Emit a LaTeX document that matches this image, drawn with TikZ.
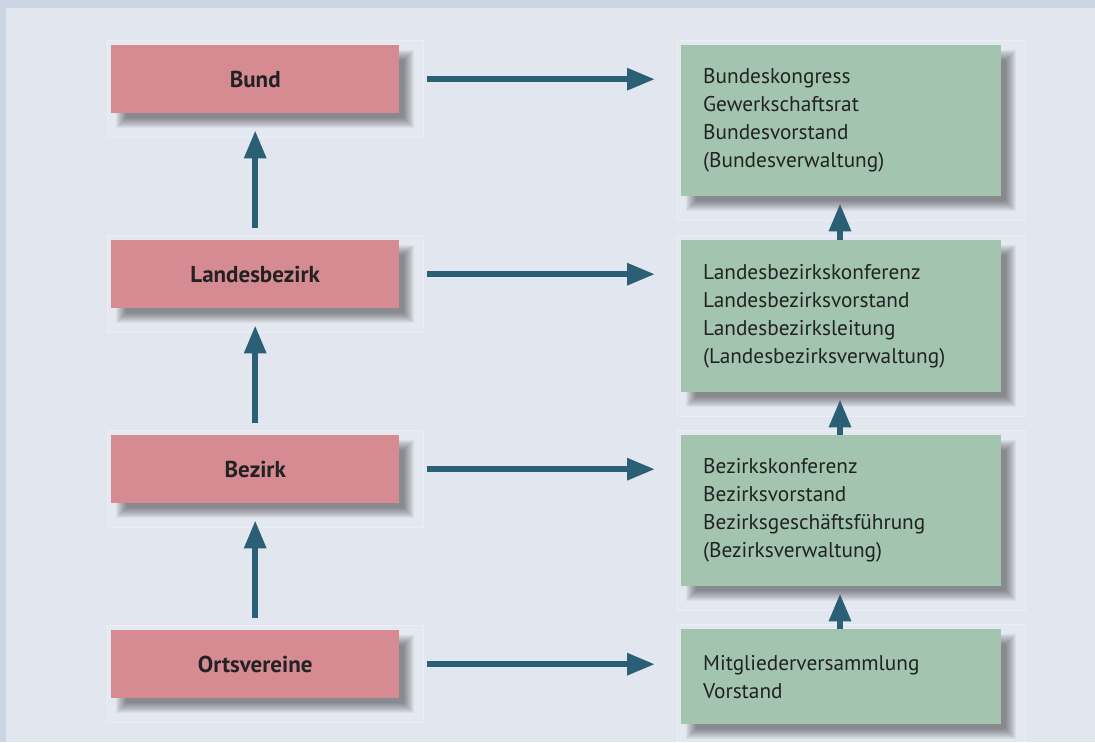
\documentclass[tikz,border=0pt]{standalone}
\usepackage{fontspec}
\setmainfont{PT Sans}
\usetikzlibrary{arrows.meta,calc,backgrounds}

\definecolor{pagebg}{HTML}{E1E6EF}
\definecolor{framebg}{HTML}{CBD5E3}
\definecolor{levelred}{HTML}{D68B93}
\definecolor{organgreen}{HTML}{A3C5B0}
\definecolor{arrowblue}{HTML}{2B5F75}
\definecolor{inktext}{HTML}{222222}

\tikzset{
  level/.style={fill=levelred, minimum width=288pt, minimum height=68pt,
    inner sep=0pt, anchor=north west, text=inktext,
    font=\fontsize{23}{28}\selectfont\bfseries},
  organ/.style={fill=organgreen, text width=276pt, inner xsep=22pt, inner ysep=0pt,
    align=left, anchor=north west, text=inktext,
    font=\fontsize{21.3}{28}\selectfont},
  flow/.style={draw=arrowblue, line width=6pt,
    -{Triangle[length=28pt,width=21pt]}},
  panel/.style={fill=white, fill opacity=0.10, draw=white, draw opacity=0.3, line width=1pt},
}

\begin{document}
\begin{tikzpicture}[x=1pt,y=-1pt]
  \useasboundingbox (0,0) rectangle (1095,742);

  % hierarchy levels
  \node[level] (r1) at (111,45)  {Bund};
  \node[level] (r2) at (111,240) {Landesbezirk};
  \node[level] (r3) at (111,435) {Bezirk};
  \node[level] (r4) at (111,630) {Ortsvereine};

  % bodies of each level
  \node[organ, minimum height=151pt] (g1) at (681,45)
    {Bundeskongress\\Gewerkschaftsrat\\Bundesvorstand\\(Bundesverwaltung)};
  \node[organ, minimum height=152pt] (g2) at (681,240)
    {Landesbezirkskonferenz\\Landesbezirksvorstand\\Landesbezirksleitung\\(Landesbezirksverwaltung)};
  \node[organ, minimum height=151pt] (g3) at (681,435)
    {Bezirkskonferenz\\Bezirksvorstand\\Bezirksgeschäftsführung\\(Bezirksverwaltung)};
  \node[organ, minimum height=95pt] (g4) at (681,629)
    {Mitgliederversammlung\\Vorstand};

  % background, panels and soft shadows
  \begin{scope}[on background layer]
    \fill[framebg] (0,0) rectangle (1095,742);
    \fill[pagebg] (6,8) rectangle (1095,742);
    \foreach \n in {r1,r2,r3,r4,g1,g2,g3,g4}{
      \draw[panel] ($(\n.north west)+(-4,-5)$) rectangle ($(\n.south east)+(24,24)$);
    }
    \foreach \n in {r1,r2,r3,r4,g1,g2,g3,g4}{
      \foreach \k in {-5,...,5}{
        \fill[black, opacity=0.045]
          ($(\n.north west)+(10+\k,10+\k)$) rectangle ($(\n.south east)+(10-\k,10-\k)$);
      }
    }
  \end{scope}

  % level to body
  \foreach \i in {1,2,3,4}{
    \draw[flow, shorten <=28pt, shorten >=26pt] (r\i.east) -- (r\i.east -| g\i.west);
  }

  % upward along the levels
  \draw[flow, shorten <=12pt, shorten >=17pt] (r4.north) -- (r3.south);
  \draw[flow, shorten <=12pt, shorten >=17pt] (r3.north) -- (r2.south);
  \draw[flow, shorten <=12pt, shorten >=17pt] (r2.north) -- (r1.south);

  % upward along the bodies
  \draw[flow, shorten >=7pt] ($(g4.north west)+(159,0)$) -- ($(g3.south west)+(159,0)$);
  \draw[flow, shorten >=7pt] ($(g3.north west)+(159,0)$) -- ($(g2.south west)+(159,0)$);
  \draw[flow, shorten >=7pt] ($(g2.north west)+(159,0)$) -- ($(g1.south west)+(159,0)$);
\end{tikzpicture}
\end{document}
